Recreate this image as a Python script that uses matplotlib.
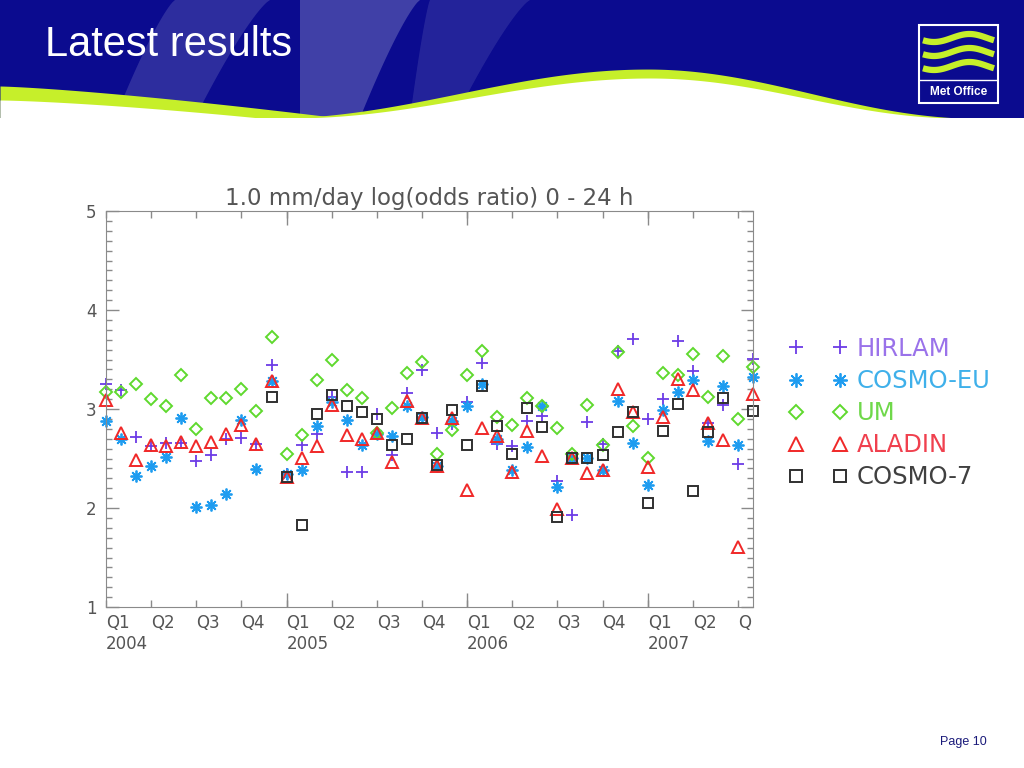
import numpy as np
import matplotlib.pyplot as plt
from matplotlib.ticker import MultipleLocator

# monthly values, Jan 2004 .. Aug 2007 (44 months)
months = np.arange(44)

hirlam = [3.25, 3.19, 2.72, 2.63, 2.66, 2.66, 2.47, 2.54, 2.70, 2.71, 2.65,
          3.44, 2.34, 2.64, 2.75, 3.12, 2.36, 2.36, 2.95, 2.54, 3.16, 3.39,
          2.76, 2.85, 3.07, 3.46, 2.65, 2.63, 2.88, 2.93, 2.27, 1.93, 2.87,
          2.65, 3.59, 3.71, 2.90, 3.10, 3.69, 3.38, 2.86, 3.04, 2.44, 3.51]
cosmo_eu = [2.88, 2.70, 2.32, 2.42, 2.52, 2.91, 2.01, 2.03, 2.14, 2.89, 2.39,
            3.28, 2.34, 2.38, 2.83, 3.07, 2.89, 2.64, 2.75, 2.73, 3.03, 2.92,
            2.42, 2.88, 3.03, 3.25, 2.70, 2.38, 2.62, 3.03, 2.21, 2.51, 2.51,
            2.38, 3.08, 2.66, 2.23, 2.99, 3.17, 3.29, 2.68, 3.23, 2.64, 3.32]
um = [3.17, 3.17, 3.25, 3.10, 3.03, 3.34, 2.80, 3.11, 3.11, 3.20, 2.98,
      3.73, 2.55, 2.74, 3.29, 3.49, 3.19, 3.11, 2.76, 3.01, 3.36, 3.47,
      2.55, 2.79, 3.34, 3.59, 2.92, 2.84, 3.11, 3.03, 2.81, 2.55, 3.04,
      2.64, 3.58, 2.83, 2.51, 3.36, 3.34, 3.56, 3.12, 3.54, 2.90, 3.42]
aladin = [3.09, 2.76, 2.48, 2.64, 2.63, 2.67, 2.63, 2.67, 2.75, 2.84, 2.65,
          3.28, 2.31, 2.51, 2.63, 3.04, 2.74, 2.70, 2.76, 2.46, 3.08, 2.91,
          2.42, 2.91, 2.18, 2.81, 2.73, 2.36, 2.78, 2.53, 1.99, 2.51, 2.35,
          2.38, 3.20, 2.97, 2.41, 2.92, 3.30, 3.19, 2.86, 2.69, 1.61, 3.15]
nan = np.nan
cosmo_7 = [nan, nan, nan, nan, nan, nan, nan, nan, nan, nan, nan,
           3.12, 2.31, 1.83, 2.95, 3.14, 3.03, 2.97, 2.90, 2.64, 2.70, 2.91,
           2.43, 2.99, 2.64, 3.23, 2.83, 2.55, 3.01, 2.82, 1.91, 2.51, 2.51,
           2.54, 2.77, 2.97, 2.05, 2.78, 3.05, 2.17, 2.77, 3.11, nan, 2.98]

series = [hirlam, cosmo_eu, um, aladin, cosmo_7]
names = ['HIRLAM', 'COSMO-EU', 'UM', 'ALADIN', 'COSMO-7']
marker_colors = ['#6c3ce6', '#1e9cf0', '#5fd92e', '#f02828', '#303030']
text_colors = ['#9a72ea', '#3fb0ea', '#6fd84a', '#f0404e', '#404040']
markers = ['+', (8, 2, 0), 'D', '^', 's']
marker_sizes = [8, 8.5, 6, 8, 7.5]
marker_widths = [1.3, 1.3, 1.4, 1.4, 1.4]

quarter_ticks = np.arange(0, 43, 3)
quarter_labels = ['Q1\n2004', 'Q2', 'Q3', 'Q4',
                  'Q1\n2005', 'Q2', 'Q3', 'Q4',
                  'Q1\n2006', 'Q2', 'Q3', 'Q4',
                  'Q1\n2007', 'Q2', 'Q']
year_ticks = [12, 24, 36]

W, H = 1024, 768
fig = plt.figure(figsize=(W / 100, H / 100), dpi=100)

# ---- slide background / banner (pixel coords) ----
bg = fig.add_axes([0, 0, 1, 1], zorder=0)
bg.set_xlim(0, W)
bg.set_ylim(H, 0)
bg.axis('off')

blue = '#0b0b8f'
lime = '#c6ef2a'
bg.fill_between([0, W], 0, 118, color=blue, lw=0)

# light swooshes
yy = np.linspace(0, 118, 50)
for xt, xb, wt, wb, a in [(175, 115, 95, 80, 0.14), (300, 300, 120, 60, 0.22),
                          (430, 410, 100, 45, 0.10)]:
    t = (yy / 118) ** 0.8
    xl = xt + (xb - xt) * t
    xr = xl + wt + (wb - wt) * t
    bg.fill(np.r_[xl, xr[::-1]], np.r_[yy, yy[::-1]], color='white', alpha=a, lw=0)

# lime band on the left
xs = np.linspace(0, 340, 80)
upper = 86 + 32 * (xs / 340) ** 1.3
xs2 = np.linspace(0, 260, 80)
lower = 100 + 18 * (xs2 / 260) ** 1.4
bg.fill_between(xs, upper, 119, color=lime, lw=0)
bg.fill_between(xs2, lower, 119, color='white', lw=0)

# white bulge with lime fringe
xw = np.linspace(290, 960, 200)
yw = np.where(xw < 650,
              118 - 40 * (1 - np.cos(np.pi * (xw - 290) / 360)) / 2,
              78 + 40 * (1 - np.cos(np.pi * (xw - 650) / 310)) / 2)
fringe = 9 * np.sin(np.pi * (xw - 290) / 670)
bg.fill_between(xw, yw - fringe, 119, color=lime, lw=0)
bg.fill_between(xw, yw, 119, color='white', lw=0)
bg.fill_between([0, W], 118, 122, color='white', lw=0)

# Met Office logo
bg.add_patch(plt.Rectangle((919, 25), 79, 78, facecolor=blue, edgecolor='white', lw=1.5))
xl_ = np.linspace(923, 994, 60)
for y0 in [38, 52, 66]:
    bg.plot(xl_, y0 + 4 * np.sin((xl_ - 923) / 71 * 2 * np.pi + 0.6), color=lime, lw=4.5,
            solid_capstyle='butt')
bg.plot([920, 997], [80, 80], color='white', lw=1)
bg.text(958.5, 92, 'Met Office', color='white', fontsize=8.5, fontweight='bold',
        ha='center', va='center', family=['Liberation Sans Narrow', 'Liberation Sans'])

fig.text(45 / W, 1 - 45 / H, 'Latest results', color='white', fontsize=30,
         ha='left', va='center', family=['Liberation Sans Narrow', 'Liberation Sans'])
fig.text(987 / W, 1 - 742 / H, 'Page 10', color='#1a1a7a', fontsize=9,
         ha='right', va='center', family='Liberation Sans')

# ---- chart ----
ax = fig.add_axes([106 / W, 1 - 607 / H, 647 / W, 396 / H], zorder=2)
ax.patch.set_alpha(0)
for vals, name, mc, mk, ms, mw in zip(series, names, marker_colors, markers,
                                      marker_sizes, marker_widths):
    ax.plot(months, vals, linestyle='none', marker=mk, ms=ms, mew=mw,
            mfc='none', mec=mc, color=mc, label=name, clip_on=False)

ax.set_xlim(0, 43)
ax.set_ylim(1, 5)
ax.set_yticks([1, 2, 3, 4, 5])
ax.yaxis.set_minor_locator(MultipleLocator(0.1))
ax.xaxis.remove_overlapping_locs = False
ax.set_xticks(year_ticks, [''] * len(year_ticks))
ax.set_xticks(quarter_ticks, quarter_labels, minor=True, ha='left')

gray = '#8a8a8a'
for s in ax.spines.values():
    s.set_color(gray)
ax.tick_params(axis='both', which='both', direction='in', colors=gray,
               labelcolor='#555555', labelsize=12, top=True, right=True, width=1)
ax.tick_params(axis='y', which='major', length=9, pad=7)
ax.tick_params(axis='y', which='minor', length=4)
ax.tick_params(axis='x', which='major', length=10)
ax.tick_params(axis='x', which='minor', length=5, pad=5)

ax.set_title('1.0 mm/day log(odds ratio) 0 - 24 h', fontsize=16.5, color='#555555', pad=4)

leg = ax.legend(loc='upper left', bbox_to_anchor=(789 / W, 1 - 337 / H),
                bbox_transform=fig.transFigure, frameon=False, numpoints=2,
                handlelength=2.4, handletextpad=0.4, labelspacing=0.33,
                fontsize=17.5, borderpad=0, borderaxespad=0, markerscale=1.2)
for txt, c in zip(leg.get_texts(), text_colors):
    txt.set_color(c)

fig.savefig('out.png', dpi=100)
